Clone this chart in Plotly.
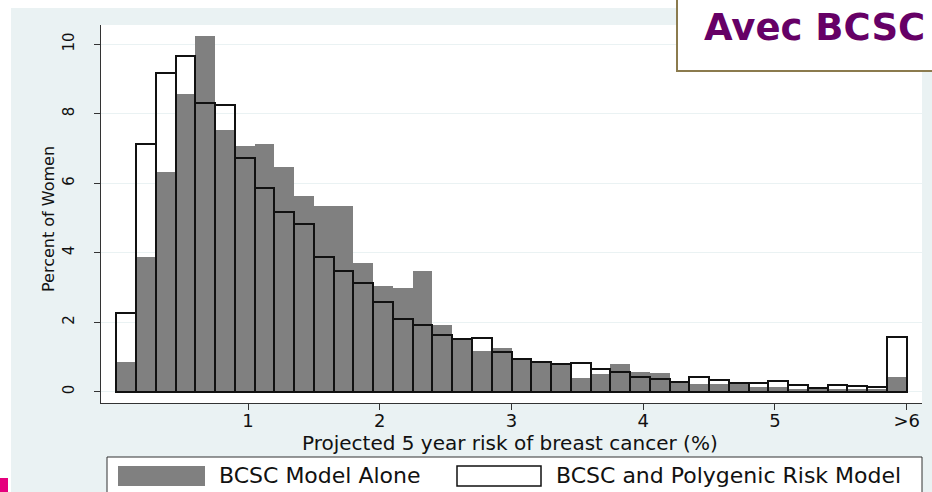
import plotly.graph_objects as go

# ---- data ----
bin_left = [0.00, 0.15, 0.30, 0.45, 0.60, 0.75, 0.90, 1.05, 1.20, 1.35,
            1.50, 1.65, 1.80, 1.95, 2.10, 2.25, 2.40, 2.55, 2.70, 2.85,
            3.00, 3.15, 3.30, 3.45, 3.60, 3.75, 3.90, 4.05, 4.20, 4.35,
            4.50, 4.65, 4.80, 4.95, 5.10, 5.25, 5.40, 5.55, 5.70, 5.85]
bin_width = 0.15

bcsc_alone = [0.85, 3.89, 6.32, 8.56, 10.25, 7.53, 7.07, 7.12, 6.48, 5.64,
              5.35, 5.35, 3.70, 3.04, 2.98, 3.47, 1.93, 1.50, 1.18, 1.25,
              0.93, 0.86, 0.80, 0.39, 0.50, 0.79, 0.58, 0.53, 0.26, 0.22,
              0.22, 0.26, 0.15, 0.15, 0.07, 0.14, 0.07, 0.07, 0.07, 0.41]

bcsc_polygenic = [2.26, 7.12, 9.18, 9.67, 8.32, 8.25, 6.74, 5.85, 5.18, 4.83,
                  3.89, 3.48, 3.12, 2.57, 2.08, 1.92, 1.64, 1.53, 1.56, 1.15,
                  0.94, 0.85, 0.79, 0.82, 0.65, 0.56, 0.43, 0.36, 0.27, 0.43,
                  0.34, 0.25, 0.26, 0.31, 0.18, 0.10, 0.18, 0.16, 0.13, 1.57]

x_tickvals = [1, 2, 3, 4, 5, 6]
x_ticktext = ["1", "2", "3", "4", "5", ">6"]
y_tickvals = [0, 2, 4, 6, 8, 10]

series_names = ["BCSC Model Alone", "BCSC and Polygenic Risk Model"]
x_title = "Projected 5 year risk of breast cancer (%)"
y_title = "Percent of Women"
badge_text = "Avec BCSC"

# ---- layout geometry (pixels) ----
W, H = 932, 492
L, R, T, B = 101, 10, 25, 89
PW, PH = W - L - R, H - T - B


def px(xp):
    return (xp - L) / PW


def py(yp):
    return (H - B - yp) / PH


FONT = "DejaVu Sans"
BLUE_BG = "#eaf2f3"
GRAY = "#808080"

centers = [b + bin_width / 2 for b in bin_left]

fig = go.Figure()
fig.add_trace(go.Bar(
    x=centers, y=bcsc_alone, width=bin_width, name=series_names[0],
    marker=dict(color=GRAY, line=dict(width=0)), showlegend=False,
    hovertemplate="%{y}<extra></extra>",
))
fig.add_trace(go.Bar(
    x=centers, y=bcsc_polygenic, width=bin_width, name=series_names[1],
    marker=dict(color="rgba(0,0,0,0)", line=dict(color="#111111", width=2)),
    showlegend=False, hovertemplate="%{y}<extra></extra>",
))

shapes = [
    # graph region light blue background
    dict(type="rect", xref="paper", yref="paper", layer="below",
         x0=px(11), x1=px(W + 2), y0=py(8), y1=py(H + 2),
         fillcolor=BLUE_BG, line=dict(width=0)),
    # white plot region
    dict(type="rect", xref="paper", yref="paper", layer="below",
         x0=0, x1=1, y0=0, y1=1, fillcolor="white", line=dict(width=0)),
    # legend box
    dict(type="rect", xref="paper", yref="paper", layer="above",
         x0=px(107), x1=px(922), y0=py(497), y1=py(457),
         fillcolor="white", line=dict(color="#333333", width=1)),
    dict(type="rect", xref="paper", yref="paper", layer="above",
         x0=px(118), x1=px(205), y0=py(486), y1=py(466),
         fillcolor=GRAY, line=dict(width=0)),
    dict(type="rect", xref="paper", yref="paper", layer="above",
         x0=px(457), x1=px(541), y0=py(486), y1=py(466),
         fillcolor="white", line=dict(color="#111111", width=1.5)),
    # badge box
    dict(type="rect", xref="paper", yref="paper", layer="above",
         x0=px(677), x1=px(W + 5), y0=py(71), y1=py(-5),
         fillcolor="white", line=dict(color="#8b7b4e", width=2)),
    # pink slide mark
    dict(type="rect", xref="paper", yref="paper", layer="above",
         x0=px(0), x1=px(8), y0=py(H + 2), y1=py(478),
         fillcolor="#e5007d", line=dict(width=0)),
]

annotations = [
    dict(text=x_title, xref="paper", yref="paper", x=px(510), y=py(443),
         xanchor="center", yanchor="middle", showarrow=False,
         font=dict(family=FONT, size=20, color="#111111")),
    dict(text=y_title, xref="paper", yref="paper", x=px(48), y=py(219),
         xanchor="center", yanchor="middle", showarrow=False, textangle=-90,
         font=dict(family=FONT, size=16, color="#111111")),
    dict(text=series_names[0], xref="paper", yref="paper", x=px(217), y=py(476),
         xanchor="left", yanchor="middle", showarrow=False,
         font=dict(family=FONT, size=22, color="#111111")),
    dict(text=series_names[1], xref="paper", yref="paper", x=px(554), y=py(476),
         xanchor="left", yanchor="middle", showarrow=False,
         font=dict(family=FONT, size=22, color="#111111")),
    dict(text="<b>" + badge_text + "</b>", xref="paper", yref="paper",
         x=px(814), y=py(27), xanchor="center", yanchor="middle", showarrow=False,
         font=dict(family="DejaVu Sans", size=37, color="#660066")),
]

fig.update_layout(
    width=W, height=H,
    margin=dict(l=L, r=R, t=T, b=B, pad=0),
    paper_bgcolor="white", plot_bgcolor="rgba(0,0,0,0)",
    barmode="overlay", bargap=0,
    shapes=shapes, annotations=annotations,
    showlegend=False,
)

fig.update_xaxes(
    range=[-0.116, 6.116], tickvals=x_tickvals, ticktext=x_ticktext,
    showgrid=False, zeroline=False, showline=True, linecolor="#333333", linewidth=1,
    ticks="outside", ticklen=6, tickcolor="#333333",
    ticklabelstandoff=-5,
    tickfont=dict(family=FONT, size=18, color="#111111"),
)
fig.update_yaxes(
    range=[-0.325, 10.556], tickvals=y_tickvals,
    showgrid=True, gridcolor=BLUE_BG, gridwidth=1, zeroline=False,
    showline=True, linecolor="#333333", linewidth=1,
    ticks="outside", ticklen=6, tickcolor="#333333", tickangle=-90,
    ticklabelstandoff=14,
    tickfont=dict(family=FONT, size=15, color="#111111"),
)

fig.write_html(
    "out.html",
    config={"displayModeBar": False},
    post_script="document.body.style.margin='0';document.body.style.overflow='hidden';",
)
